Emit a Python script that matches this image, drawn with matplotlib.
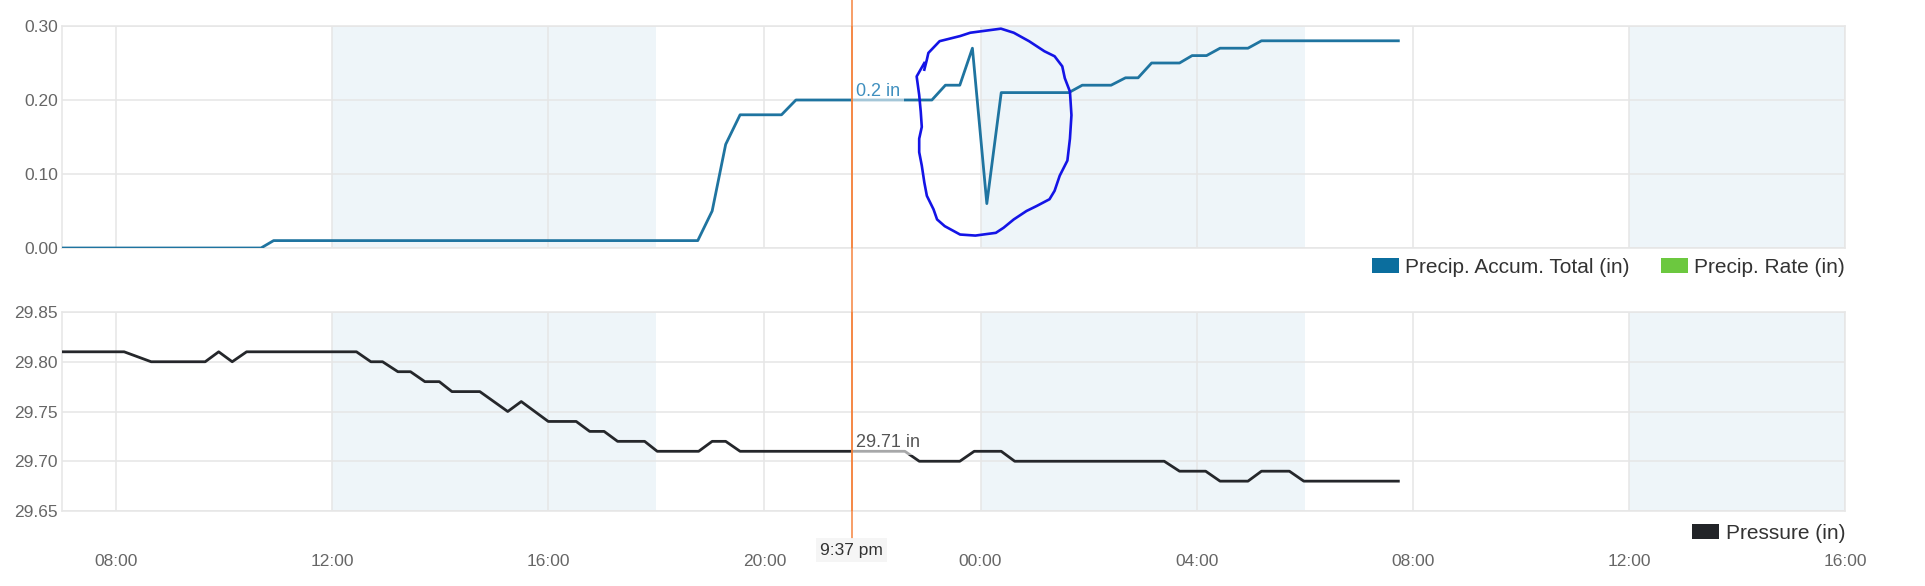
import matplotlib
matplotlib.use("Agg")
import matplotlib.pyplot as plt
from matplotlib.patches import Patch
from matplotlib.ticker import FixedLocator, FuncFormatter
import matplotlib.transforms as mtransforms

plt.rcParams['font.family'] = ['Liberation Sans', 'DejaVu Sans']

# DATA, times as "day HH:MM"
precip_times = ["1 07:00", "1 10:41", "1 10:55", "1 18:46", "1 19:02", "1 19:17",
                "1 19:33", "1 20:19", "1 20:35", "1 23:06", "1 23:21", "1 23:37",
                "1 23:51", "2 00:07", "2 00:23", "2 01:38", "2 01:53", "2 02:25",
                "2 02:41", "2 02:55", "2 03:10", "2 03:41", "2 03:55", "2 04:11",
                "2 04:26", "2 04:57", "2 05:12", "2 07:44"]
precip_accum = [0.00, 0.00, 0.01, 0.01, 0.05, 0.14,
                0.18, 0.18, 0.20, 0.20, 0.22, 0.22,
                0.27, 0.06, 0.21, 0.21, 0.22, 0.22,
                0.23, 0.23, 0.25, 0.25, 0.26, 0.26,
                0.27, 0.27, 0.28, 0.28]

pressure_times = ["1 07:00", "1 08:09", "1 08:39", "1 09:39", "1 09:54", "1 10:09",
                  "1 10:25", "1 12:27", "1 12:43", "1 12:56", "1 13:13", "1 13:27",
                  "1 13:43", "1 13:59", "1 14:13", "1 14:44", "1 15:15", "1 15:30",
                  "1 16:00", "1 16:31", "1 16:46", "1 17:02", "1 17:17", "1 17:47",
                  "1 18:01", "1 18:47", "1 19:02", "1 19:17", "1 19:33", "1 22:36",
                  "1 22:52", "1 23:37", "1 23:53", "2 00:23", "2 00:38", "2 03:24",
                  "2 03:41", "2 04:10", "2 04:26", "2 04:57", "2 05:12", "2 05:43",
                  "2 05:59", "2 07:44"]
pressure = [29.81, 29.81, 29.80, 29.80, 29.81, 29.80,
            29.81, 29.81, 29.80, 29.80, 29.79, 29.79,
            29.78, 29.78, 29.77, 29.77, 29.75, 29.76,
            29.74, 29.74, 29.73, 29.73, 29.72, 29.72,
            29.71, 29.71, 29.72, 29.72, 29.71, 29.71,
            29.70, 29.70, 29.71, 29.71, 29.70, 29.70,
            29.69, 29.69, 29.68, 29.68, 29.69, 29.69,
            29.68, 29.68]

night_bands = [("1 12:00", "1 18:00"), ("2 00:00", "2 06:00"), ("2 12:00", "2 16:00")]
cursor_time = "1 21:37"
cursor_label = "9:37 pm"
precip_tip = "0.2 in"
pressure_tip = "29.71 in"

# hand-drawn circle around the spike (time, value)
circle_x = [22.96, 23.007, 23.035, 23.243, 23.622, 23.81, 24.378, 24.615, 24.898,
            25.182, 25.371, 25.513, 25.56, 25.655, 25.683, 25.655, 25.608, 25.466,
            25.371, 25.277, 25.04, 24.851, 24.615, 24.426, 24.284, 23.905, 23.622,
            23.338, 23.196, 23.13, 23.007, 22.96, 22.913, 22.865, 22.865, 22.913,
            22.894, 22.865, 22.818, 22.96]
circle_y = [0.241, 0.2545, 0.2636, 0.2795, 0.2864, 0.2909, 0.2964, 0.2909, 0.2795,
            0.2659, 0.2591, 0.2455, 0.2295, 0.2114, 0.1795, 0.1477, 0.1182, 0.0977,
            0.0773, 0.0659, 0.0568, 0.05, 0.0386, 0.0273, 0.0205, 0.0168, 0.0182,
            0.0295, 0.0386, 0.0523, 0.0705, 0.0886, 0.1114, 0.1295, 0.1477, 0.1636,
            0.1841, 0.2068, 0.2318, 0.25]


def to_hours(s):
    day, hm = s.split()
    h, m = hm.split(":")
    return (int(day) - 1) * 24 + int(h) + int(m) / 60.0


px = [to_hours(t) for t in precip_times]
tx = [to_hours(t) for t in pressure_times]
cx = to_hours(cursor_time)

GRID = "#e6e6e6"
BAND = "#eef5f9"
TICK = "#666666"

fig = plt.figure(figsize=(19.25, 5.86), dpi=100)
ax1 = fig.add_axes([62 / 1925, 1 - 248 / 586, 1783 / 1925, 222 / 586])
ax2 = fig.add_axes([62 / 1925, 1 - 511 / 586, 1783 / 1925, 199 / 586])

xticks = list(range(8, 41, 4))
for ax in (ax1, ax2):
    ax.set_xlim(7, 40)
    for a, b in night_bands:
        ax.axvspan(to_hours(a), to_hours(b), color=BAND, lw=0, zorder=0)
    ax.xaxis.set_major_locator(FixedLocator(xticks))
    ax.xaxis.set_major_formatter(FuncFormatter(lambda v, p: "%02d:00" % (int(v) % 24)))
    ax.grid(True, color=GRID, lw=1.1)
    ax.set_axisbelow(True)
    for sp in ax.spines.values():
        sp.set_color(GRID)
        sp.set_linewidth(1.1)
    ax.tick_params(length=0, colors=TICK, labelsize=12.5)
    ax.tick_params(axis='y', pad=3)
    ax.tick_params(axis='x', pad=31)
    ax.axvline(cx, color="#f5843f", lw=1.1, zorder=5)

ax1.tick_params(axis='x', labelbottom=False)

# precipitation
ax1.plot(px, precip_accum, color="#1f74a0", lw=2.0, zorder=3)
ax1.set_ylim(0, 0.30)
ax1.set_yticks([0, 0.1, 0.2, 0.3])
ax1.yaxis.set_major_formatter(FuncFormatter(lambda v, p: "%.2f" % v))
ax1.text(cx + 0.08, 0.2, precip_tip, color="#3f8fbf", fontsize=13, va="bottom", ha="left",
         zorder=4, bbox=dict(facecolor="white", alpha=0.6, edgecolor="none", pad=2.5))
ax1.plot(circle_x, circle_y, color="#1414e6", lw=1.9, zorder=6, clip_on=False)
ax1.legend(handles=[Patch(facecolor="#0b6e9e", label="Precip. Accum. Total (in)"),
                    Patch(facecolor="#6cc83f", label="Precip. Rate (in)")],
           loc="upper right", bbox_to_anchor=(1.0, -0.045), ncol=2, frameon=False,
           fontsize=15, handlelength=1.3, handleheight=0.72, handletextpad=0.3,
           columnspacing=1.5, borderaxespad=0, borderpad=0, labelcolor="#333333")

# pressure
ax2.plot(tx, pressure, color="#25272b", lw=2.0, zorder=3)
ax2.set_ylim(29.65, 29.85)
ax2.set_yticks([29.65, 29.70, 29.75, 29.80, 29.85])
ax2.yaxis.set_major_formatter(FuncFormatter(lambda v, p: "%.2f" % v))
ax2.text(cx + 0.08, 29.71, pressure_tip, color="#555555", fontsize=13, va="bottom", ha="left",
         zorder=4, bbox=dict(facecolor="white", alpha=0.6, edgecolor="none", pad=2.5))
ax2.legend(handles=[Patch(facecolor="#222428", label="Pressure (in)")],
           loc="upper right", bbox_to_anchor=(1.0, -0.065), frameon=False,
           fontsize=15, handlelength=1.3, handleheight=0.72, handletextpad=0.3,
           borderaxespad=0, borderpad=0, labelcolor="#333333")

# cursor line across the whole figure and its time label
trans = mtransforms.blended_transform_factory(ax2.transData, fig.transFigure)
fig.add_artist(plt.Line2D([cx, cx], [1.0, 1 - 538 / 586], transform=trans,
                          color="#f5843f", lw=1.1))
fig.text(cx, 1 - 550 / 586, cursor_label, transform=trans, ha="center", va="center",
         fontsize=12.5, color="#333333",
         bbox=dict(facecolor="#f4f4f4", alpha=0.85, edgecolor="none", pad=3))

fig.savefig("out.png", dpi=100)
